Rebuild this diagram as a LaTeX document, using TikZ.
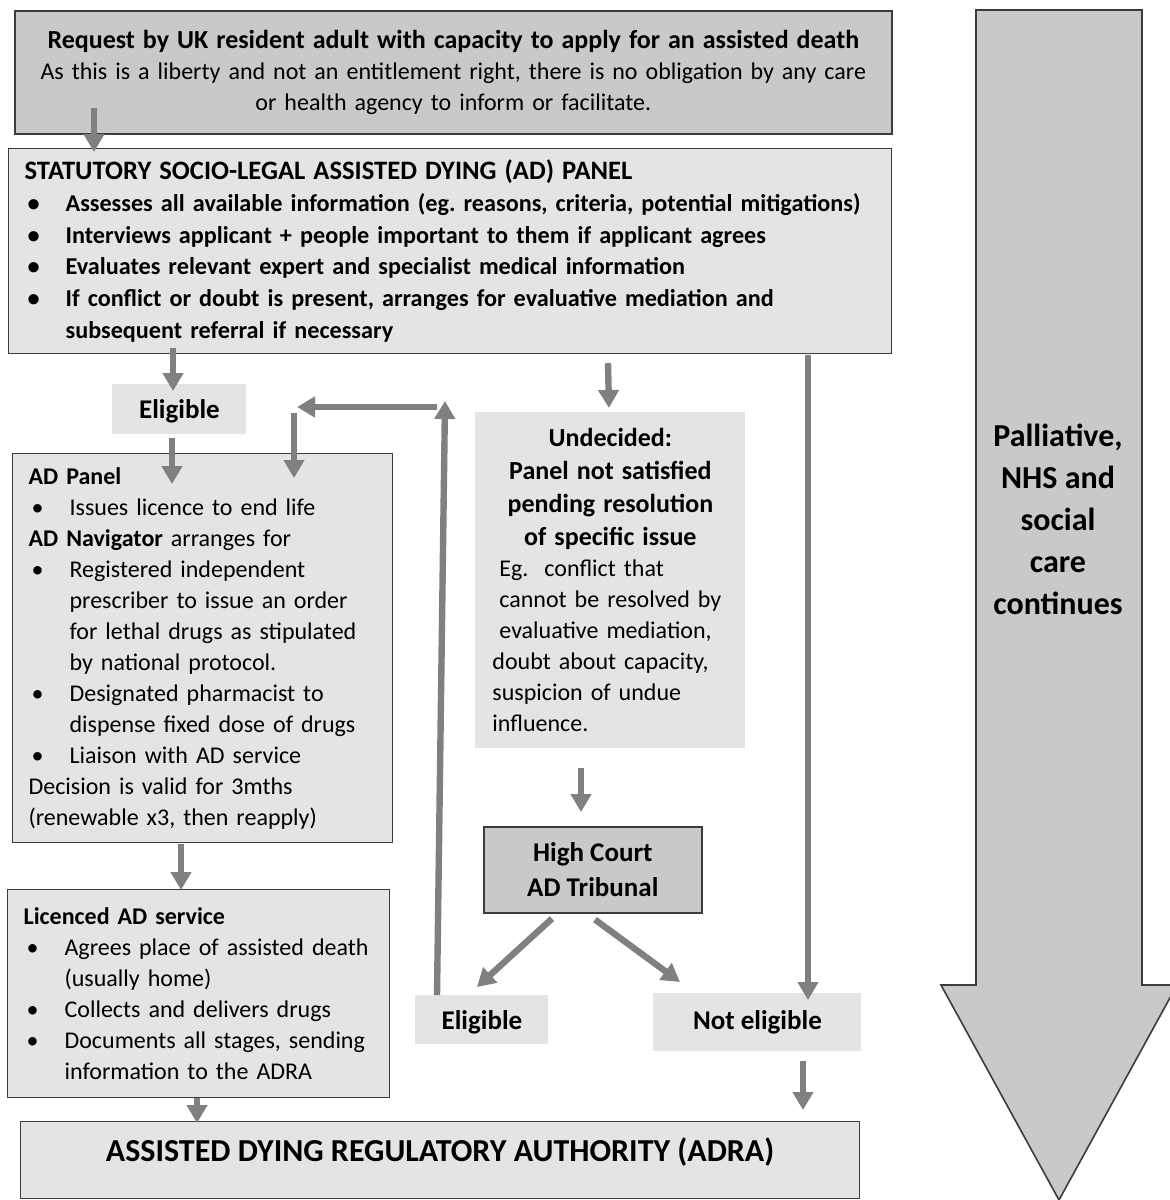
\documentclass[tikz,border=0pt]{standalone}
\usepackage{fontspec}
\setmainfont{Carlito}
\usetikzlibrary{arrows.meta,positioning,calc}

\definecolor{boxdark}{HTML}{C9C9C9}
\definecolor{boxlight}{HTML}{E4E4E4}
\definecolor{flowgray}{HTML}{808080}
\definecolor{edgegray}{HTML}{3C3C3C}

\newcommand{\bul}{\makebox[20.5pt][l]{\hspace{1.5pt}\textbullet}}
\newcommand{\ind}{\hspace*{20.5pt}}
\frenchspacing

\tikzset{
  panelbox/.style={draw=edgegray, line width=0.6pt, fill=boxlight, inner xsep=8pt, inner ysep=0pt, align=left, anchor=north west},
  darkbox/.style={draw=edgegray, line width=0.8pt, fill=boxdark, inner sep=0pt, align=center, anchor=north west},
  tagbox/.style={fill=boxlight, inner sep=0pt, align=center, anchor=north west, font=\fontsize{13.5}{16}\selectfont\bfseries},
  eligtag/.style={tagbox, text height=12pt, text depth=2.8pt},
  flow/.style={draw=flowgray, line width=3.2pt, -{Triangle[width=10pt,length=9pt]}}
}

\begin{document}
\begin{tikzpicture}[x=0.5pt, y=-0.5pt, font=\fontsize{12}{15.5}\selectfont]
  \useasboundingbox (0,0) rectangle (1170,1200);
  \clip (0,0) rectangle (1170,1200);
  % side arrow
  \draw[draw=edgegray, line width=0.8pt, fill=boxdark]
    (976,10) -- (1142,10) -- (1142,985) -- (1177,985) -- (1059,1200)
    -- (941,985) -- (976,985) -- cycle;
  \node[align=center, font=\fontsize{16}{21}\selectfont\bfseries] (care) at (1058,519)
    {Palliative,\\NHS and\\social\\care\\continues};
  % boxes
  \node[darkbox, minimum width=438.5pt, minimum height=61.5pt, text width=438.5pt] (req) at (14,10)
    {{\fontsize{13}{16}\selectfont\bfseries Request by UK resident adult with capacity to apply for an assisted death\par}
     As this is a liberty and not an entitlement right, there is no obligation by any care\\
     or health agency to inform or facilitate.};
  \node[panelbox, minimum width=441.5pt, minimum height=102.5pt, text width=425.5pt, font=\fontsize{12.1}{15.9}\selectfont\bfseries] (stat) at (8,148)
    {{\fontsize{13.3}{16.4}\selectfont STATUTORY SOCIO-LEGAL ASSISTED DYING (AD) PANEL\par}
     \bul Assesses all available information (eg. reasons, criteria, potential mitigations)\\
     \bul Interviews applicant + people important to them if applicant agrees\\
     \bul Evaluates relevant expert and specialist medical information\\
     \bul If conflict or doubt is present, arranges for evaluative mediation and\\
     \ind subsequent referral if necessary};
  \node[eligtag, minimum width=67pt, minimum height=25pt] (elig) at (112,384) {Eligible};
  \node[panelbox, minimum width=190pt, minimum height=194.5pt, text width=174pt] (adp) at (12,453)
    {\textbf{AD Panel}\\
     \bul Issues licence to end life\\
     \textbf{AD Navigator} arranges for\\
     \bul Registered independent\\
     \ind prescriber to issue an order\\
     \ind for lethal drugs as stipulated\\
     \ind by national protocol.\\
     \bul Designated pharmacist to\\
     \ind dispense fixed dose of drugs\\
     \bul Liaison with AD service\\
     Decision is valid for 3mths\\
     (renewable x3, then reapply)};
  \node[fill=boxlight, inner sep=0pt, align=center, anchor=north west, minimum width=135pt, minimum height=168pt, text width=135pt] (undec) at (475,412)
    {{\fontsize{13}{16.5}\selectfont\bfseries Undecided:\\ Panel not satisfied\\ pending resolution\\ of specific issue\par}
     \makebox[118pt][l]{\hspace*{3.5pt}Eg.\ \ conflict that}\\
     \makebox[118pt][l]{\hspace*{3.5pt}cannot be resolved by}\\
     \makebox[118pt][l]{\hspace*{3.5pt}evaluative mediation,}\\
     \makebox[118pt][l]{doubt about capacity,}\\
     \makebox[118pt][l]{suspicion of undue}\\
     \makebox[118pt][l]{influence.}};
  \node[darkbox, minimum width=109pt, minimum height=43pt, font=\fontsize{13.5}{17.5}\selectfont\bfseries] (hc) at (483,826)
    {High Court\\AD Tribunal};
  \node[panelbox, minimum width=191pt, minimum height=104pt, text width=175pt] (lic) at (7,889)
    {\textbf{Licenced AD service}\\
     \bul Agrees place of assisted death\\
     \ind (usually home)\\
     \bul Collects and delivers drugs\\
     \bul Documents all stages, sending\\
     \ind information to the ADRA};
  \node[eligtag, minimum width=66.5pt, minimum height=24.5pt] (eligB) at (415,995) {Eligible};
  \node[tagbox, minimum width=104pt, minimum height=29pt] (noelig) at (653,993) {Not eligible};
  \node[panelbox, inner xsep=0pt, align=center, minimum width=419.5pt, minimum height=38.5pt, text height=10.5pt, text depth=9pt, font=\fontsize{16}{19}\selectfont\bfseries] (adra) at (20,1121)
    {ASSISTED DYING REGULATORY AUTHORITY (ADRA)};
  % loop back from tribunal
  \coordinate (upend) at (445,401);
  \coordinate (leftfrom) at (437,407);
  \coordinate (leftto) at (297,407);
  \coordinate (downfrom) at (294,413);
  % connectors
  \draw[flow] ($(req.south west)+(80,-27)$) -- ($(stat.north west)+(86,4)$);
  \draw[flow] ($(stat.south west)+(165,-6)$) -- ($(elig.north west)+(61,7)$);
  \draw[flow] ($(stat.south west)+(600,9)$) -- ($(undec.north west)+(134,-4)$);
  \draw[flow] ($(stat.south west)+(800,1)$) -- ($(noelig.north west)+(155,7)$);
  \draw[flow] ($(elig.south west)+(60,3)$) -- ($(adp.north west)+(160,31)$);
  \draw[flow] ($(eligB.north west)+(22,0)$) -- (upend);
  \draw[flow] (leftfrom) -- (leftto);
  \draw[flow] (downfrom) -- ($(adp.north west)+(282,25)$);
  \draw[flow] ($(undec.south west)+(106,19)$) -- ($(hc.north west)+(98,-14)$);
  \draw[flow] ($(hc.south west)+(69,5)$) -- ($(eligB.north west)+(62,-8)$);
  \draw[flow] ($(hc.south west)+(112,6)$) -- ($(noelig.north west)+(27,-11)$);
  \draw[flow] ($(adp.south west)+(169,1)$) -- ($(lic.north west)+(174,1)$);
  \draw[flow] ($(lic.south west)+(190,0)$) -- ($(adra.north west)+(177,2)$);
  \draw[flow] ($(noelig.south west)+(150,9)$) -- ($(adra.north west)+(783,-11)$);
\end{tikzpicture}
\end{document}
